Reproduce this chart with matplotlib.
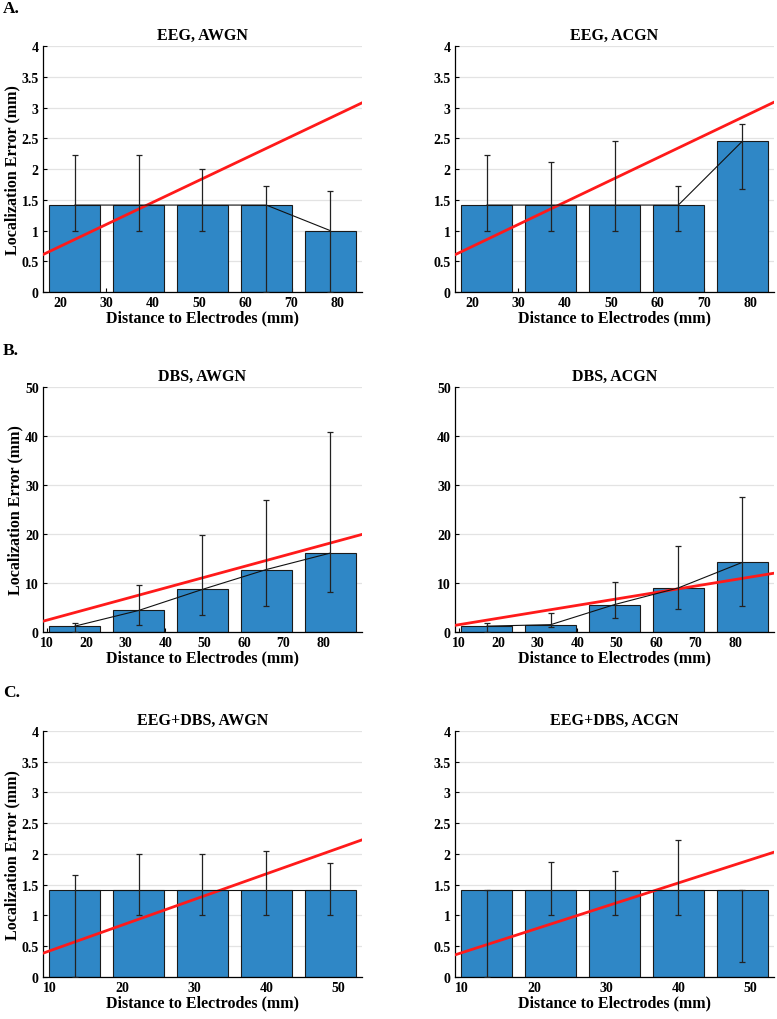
import numpy as np
import matplotlib
matplotlib.use("Agg")
from matplotlib import pyplot as plt
from matplotlib.ticker import FormatStrFormatter

plt.rcParams['font.family'] = ['Liberation Serif', 'DejaVu Serif']
plt.rcParams['font.weight'] = 'bold'

# distance range (mm) covered by the 5 bins in each row
eeg_range = [16.3, 85.2]
dbs_range = [9.0, 89.9]
both_range = [9.0, 53.3]

# A. EEG
eeg_awgn_mean = [1.414, 1.414, 1.414, 1.414, 1.0]
eeg_awgn_lo = [1.0, 1.0, 1.0, 0.0, 0.0]
eeg_awgn_hi = [2.236, 2.236, 2.0, 1.732, 1.65]
eeg_awgn_fit = [0.0358, 0.026]          # slope, intercept

eeg_acgn_mean = [1.414, 1.414, 1.414, 1.414, 2.449]
eeg_acgn_lo = [1.0, 1.0, 1.0, 1.0, 1.67]
eeg_acgn_hi = [2.236, 2.12, 2.45, 1.732, 2.74]
eeg_acgn_fit = [0.0360, 0.02]

# B. DBS
dbs_awgn_mean = [1.2, 4.4, 8.7, 12.75, 16.1]
dbs_awgn_lo = [0.0, 1.5, 3.4, 5.3, 8.1]
dbs_awgn_hi = [1.9, 9.5, 19.9, 26.9, 40.9]
dbs_awgn_fit = [0.219, 0.23]

dbs_acgn_mean = [1.2, 1.5, 5.6, 9.0, 14.2]
dbs_acgn_lo = [0.0, 1.0, 2.85, 4.75, 5.3]
dbs_acgn_hi = [1.9, 3.9, 10.2, 17.5, 27.5]
dbs_acgn_fit = [0.1315, 0.18]

# C. EEG+DBS
both_awgn_mean = [1.414, 1.414, 1.414, 1.414, 1.414]
both_awgn_lo = [0.0, 1.0, 1.0, 1.0, 1.0]
both_awgn_hi = [1.65, 2.0, 2.0, 2.05, 1.85]
both_awgn_fit = [0.0416, 0.012]

both_acgn_mean = [1.414, 1.414, 1.414, 1.414, 1.414]
both_acgn_lo = [0.0, 1.0, 1.0, 1.0, 0.245]
both_acgn_hi = [1.414, 1.87, 1.73, 2.23, 1.414]
both_acgn_fit = [0.0377, 0.02]

eeg_xticks = [20, 30, 40, 50, 60, 70, 80]
dbs_xticks = [10, 20, 30, 40, 50, 60, 70, 80]
both_xticks = [10, 20, 30, 40, 50]

bar_col = '#2F87C6'


def panel(ax, title, rng, mean, lo, hi, fit, xticks, ymax, ystep, ylab):
    edges = np.linspace(rng[0], rng[1], len(mean) + 1)
    xc = (edges[:-1] + edges[1:]) / 2
    w = 0.8 * (edges[1] - edges[0])
    mean = np.array(mean)
    ax.set_axisbelow(True)
    ax.yaxis.grid(True, color='#e3e3e3', lw=0.9)
    ax.bar(xc, mean, width=w, color=bar_col, edgecolor='#1a1a1a', lw=0.8, zorder=2)
    xs = np.array(rng)
    ax.plot(xs, fit[0] * xs + fit[1], color='#ff1a1a', lw=2.0, zorder=3)
    ax.plot(xc, mean, color='#111111', lw=0.8, zorder=4)
    yerr = [mean - np.array(lo), np.array(hi) - mean]
    ax.errorbar(xc, mean, yerr=yerr, fmt='none', ecolor='#222222',
                elinewidth=0.9, capsize=2, capthick=0.9, zorder=5)
    ax.set_xlim(rng)
    ax.set_ylim(0, ymax)
    ax.set_xticks(xticks)
    ax.set_yticks(np.arange(0, ymax + ystep / 2, ystep))
    ax.yaxis.set_major_formatter(FormatStrFormatter('%g'))
    for s in ['top', 'right']:
        ax.spines[s].set_visible(False)
    ax.spines['left'].set_linewidth(0.9)
    ax.spines['bottom'].set_linewidth(0.9)
    ax.tick_params(direction='in', length=3, width=0.8, labelsize=10, pad=3)
    ax.set_title(title, fontsize=11.5, fontweight='bold', pad=5)
    ax.set_xlabel('Distance to Electrodes (mm)', fontsize=11.5, fontweight='bold', labelpad=0)
    if ylab:
        ax.set_ylabel('Localization Error (mm)', fontsize=11.5, fontweight='bold', labelpad=1)


fig = plt.figure(figsize=(7.77, 10.2), dpi=100)
lx, rx, w = 0.0553, 0.5856, 0.4106
rows = [(0.7127, 0.2412), (0.3794, 0.2402), (0.0412, 0.2412)]

ax = fig.add_axes([lx, rows[0][0], w, rows[0][1]])
panel(ax, 'EEG, AWGN', eeg_range, eeg_awgn_mean, eeg_awgn_lo, eeg_awgn_hi, eeg_awgn_fit, eeg_xticks, 4, 0.5, True)
ax = fig.add_axes([rx, rows[0][0], w, rows[0][1]])
panel(ax, 'EEG, ACGN', eeg_range, eeg_acgn_mean, eeg_acgn_lo, eeg_acgn_hi, eeg_acgn_fit, eeg_xticks, 4, 0.5, False)
ax = fig.add_axes([lx, rows[1][0], w, rows[1][1]])
panel(ax, 'DBS, AWGN', dbs_range, dbs_awgn_mean, dbs_awgn_lo, dbs_awgn_hi, dbs_awgn_fit, dbs_xticks, 50, 10, True)
ax = fig.add_axes([rx, rows[1][0], w, rows[1][1]])
panel(ax, 'DBS, ACGN', dbs_range, dbs_acgn_mean, dbs_acgn_lo, dbs_acgn_hi, dbs_acgn_fit, dbs_xticks, 50, 10, False)
ax = fig.add_axes([lx, rows[2][0], w, rows[2][1]])
panel(ax, 'EEG+DBS, AWGN', both_range, both_awgn_mean, both_awgn_lo, both_awgn_hi, both_awgn_fit, both_xticks, 4, 0.5, True)
ax = fig.add_axes([rx, rows[2][0], w, rows[2][1]])
panel(ax, 'EEG+DBS, ACGN', both_range, both_acgn_mean, both_acgn_lo, both_acgn_hi, both_acgn_fit, both_xticks, 4, 0.5, False)

fig.text(0.004, 0.991, 'A.', fontsize=12.5, fontweight='bold', va='center')
fig.text(0.004, 0.656, 'B.', fontsize=12.5, fontweight='bold', va='center')
fig.text(0.004, 0.3206, 'C.', fontsize=12.5, fontweight='bold', va='center')

fig.savefig('out.png', dpi=100)
